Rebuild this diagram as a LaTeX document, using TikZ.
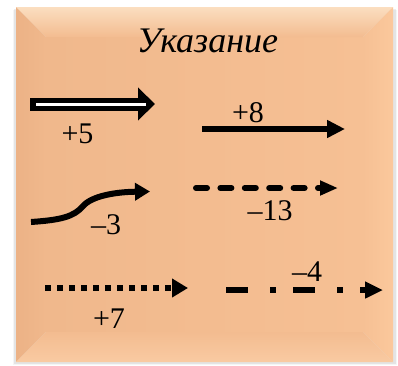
\documentclass[tikz,border=0pt]{standalone}
\usepackage{fontspec}
\setmainfont{Liberation Serif}
\usetikzlibrary{arrows.meta}
\definecolor{faceL}{RGB}{240,184,140}
\definecolor{faceR}{RGB}{246,192,148}
\definecolor{face}{RGB}{243,188,144}
\definecolor{bevtop}{RGB}{251,222,192}
\definecolor{bevleft}{RGB}{236,178,134}
\definecolor{bevright}{RGB}{251,200,156}
\definecolor{bevbot}{RGB}{249,202,162}
\tikzset{
  lbl/.style={font=\fontsize{30}{36}\selectfont, anchor=base, inner sep=0pt},
  ttl/.style={font=\fontsize{36}{42}\selectfont\itshape, anchor=base, inner sep=0pt},
  arr/.style={line width=6pt, -{Triangle[length=18pt,width=17pt]}},
}
\begin{document}
\begin{tikzpicture}[x=1pt,y=-1pt]
\useasboundingbox (0,0) rectangle (398,365);
% shadow
\fill[black,opacity=0.04] (13,10) rectangle (397,365);
\fill[black,opacity=0.07] (14,9) rectangle (395.5,363.5);
% bevelled panel
\coordinate (o1) at (16,7);
\coordinate (o2) at (393,7);
\coordinate (o3) at (393,362);
\coordinate (o4) at (16,362);
\coordinate (i1) at (46,37);
\coordinate (i2) at (363,37);
\coordinate (i3) at (363,332);
\coordinate (i4) at (46,332);
\shade[left color=faceL, right color=faceR] (i1) rectangle (i3);
\shade[top color=bevtop, bottom color=face] (o1) -- (o2) -- (i2) -- (i1) -- cycle;
\shade[left color=bevleft, right color=faceL] (o1) -- (i1) -- (i4) -- (o4) -- cycle;
\shade[left color=faceR, right color=bevright] (o2) -- (o3) -- (i3) -- (i2) -- cycle;
\shade[top color=face, bottom color=bevbot] (o4) -- (i4) -- (i3) -- (o3) -- cycle;
% title
\node[ttl] (title) at (207.5,52) {Указание};
% double arrow +5
\coordinate (d1) at (30,104);
\coordinate (d2) at (155,104);
\coordinate (w1) at (36,104);
\coordinate (w2) at (146,104);
\draw[line width=13pt, -{Triangle[length=17pt,width=32pt]}] (d1) -- (d2);
\draw[white, line width=3pt] (w1) -- (w2);
\node[lbl] (l5) at (77.5,143) {+5};
% +8
\coordinate (p8s) at (202,129);
\coordinate (p8e) at (345,129);
\draw[arr] (p8s) -- (p8e);
\node[lbl] (l8) at (248,122) {+8};
% -3 curve
\coordinate (c3s) at (31,222);
\coordinate (c3m) at (83,206);
\coordinate (c3e) at (150,191.5);
\draw[line width=6pt, -{Triangle[length=15pt,width=17pt]}] (c3s) .. controls (60,220) and (74,217) .. (c3m) .. controls (92,196) and (115,192) .. (c3e);
\node[lbl] (l3) at (106,234) {–3};
% -13 dashed
\coordinate (m13s) at (196,188);
\coordinate (m13e) at (338,188);
\draw[line width=6pt, line cap=round, dash pattern=on 11pt off 13.4pt, -{Triangle[length=18pt,width=14pt]}] (m13s) -- (m13e);
\node[lbl] (l13) at (270,220) {–13};
% +7 dotted
\coordinate (p7s) at (45,288);
\coordinate (p7e) at (188,288);
\draw[line width=6pt, dash pattern=on 6pt off 6pt, -{Triangle[length=16pt,width=18pt]}] (p7s) -- (p7e);
\node[lbl] (l7) at (109,328) {+7};
% -4 dash-dot
\coordinate (m4s) at (226,290);
\coordinate (m4e) at (383,290);
\draw[line width=6pt, dash pattern=on 22pt off 22pt on 6pt off 17pt, -{Triangle[length=18pt,width=16pt]}] (m4s) -- (m4e);
\node[lbl] (l4) at (307,281) {–4};
\end{tikzpicture}
\end{document}
